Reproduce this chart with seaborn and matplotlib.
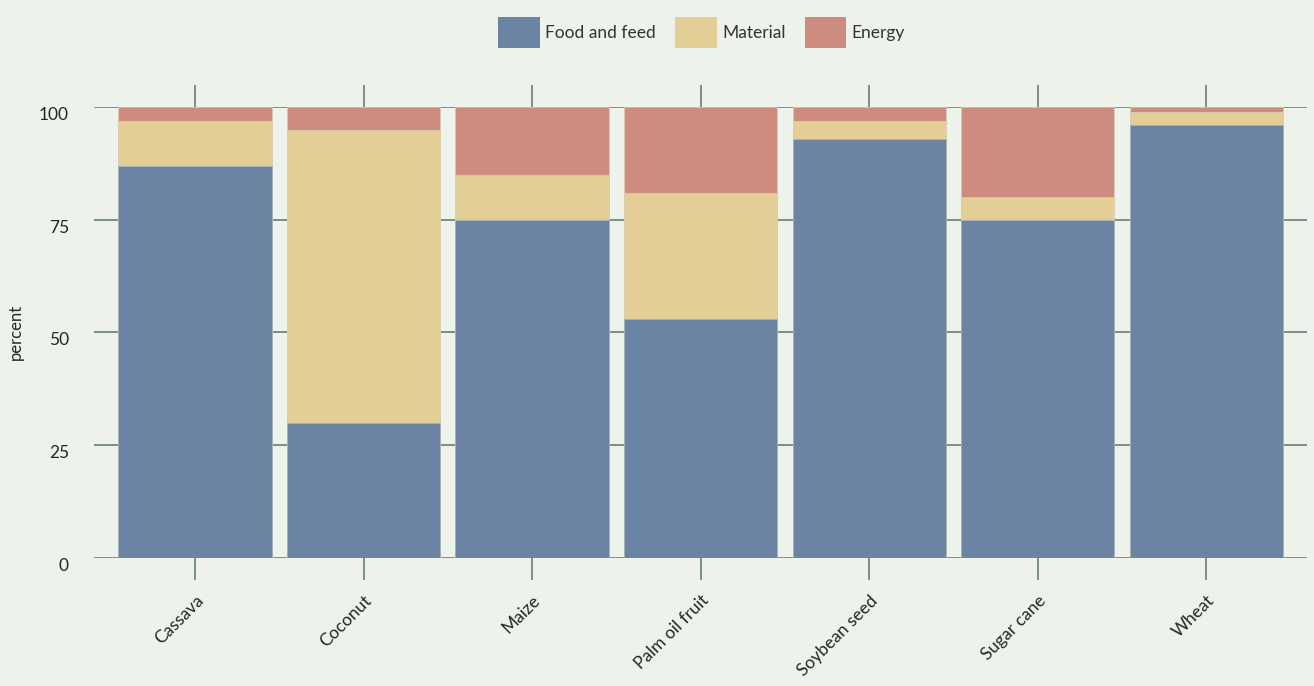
import pandas as pd
import seaborn as sns
import matplotlib.pyplot as plt
from matplotlib.patches import Patch

crops = ['Cassava', 'Coconut', 'Maize', 'Palm oil fruit', 'Soybean seed', 'Sugar cane', 'Wheat']
food = [87, 30, 75, 53, 93, 75, 96]
material = [10, 65, 10, 28, 4, 5, 3]
energy = [3, 5, 15, 19, 3, 20, 1]

bg = '#edf2ea'
grid_col = '#72897b'
colors = {'Food and feed': '#6b84a3', 'Material': '#e3ce95', 'Energy': '#ce8b7f'}

df = pd.DataFrame({'crop': crops, 'food': food, 'material': material, 'energy': energy})
df['fm'] = df['food'] + df['material']
df['total'] = df['fm'] + df['energy']

sns.set_theme(style='white')
plt.rcParams['font.family'] = ['Lato', 'DejaVu Sans']
plt.rcParams['text.color'] = '#333333'

fig = plt.figure(figsize=(13.14, 6.86), dpi=100, facecolor=bg)
ax = fig.add_axes([0.0715, 0.187, 0.9235, 0.657])
ax.set_facecolor(bg)

# stacked look: draw the totals first, then the smaller sums on top
sns.barplot(data=df, x='crop', y='total', color=colors['Energy'], width=0.91,
            saturation=1, ax=ax, edgecolor='#d8cfb8', linewidth=0.5, zorder=2)
sns.barplot(data=df, x='crop', y='fm', color=colors['Material'], width=0.91,
            saturation=1, ax=ax, edgecolor='#d8cfb8', linewidth=0.5, zorder=3)
sns.barplot(data=df, x='crop', y='food', color=colors['Food and feed'], width=0.91,
            saturation=1, ax=ax, edgecolor='#a9b6c2', linewidth=0.5, zorder=4)

ax.set_xlim(-0.6, 6.6)
ax.set_ylim(0, 100)
ax.set_yticks([0, 25, 50, 75, 100])
ax.yaxis.grid(True, color=grid_col, linewidth=1.3, zorder=0)
ax.set_axisbelow(True)
for s in ax.spines.values():
    s.set_visible(False)

ax.tick_params(axis='x', which='both', top=True, bottom=True, direction='out',
               length=16, width=1.3, color=grid_col, labelsize=12.5, pad=9)
ax.tick_params(axis='y', length=0, labelsize=12.5, pad=18)
plt.setp(ax.get_xticklabels(), rotation=45, ha='right', rotation_mode='anchor')
for t in ax.get_yticklabels():
    t.set_verticalalignment('top')

ax.set_xlabel('')
ax.set_ylabel('percent', fontsize=12)
ax.yaxis.set_label_coords(-0.058, 0.5)

handles = [Patch(facecolor=c, edgecolor='none', label=k) for k, c in colors.items()]
fig.legend(handles=handles, loc='center', bbox_to_anchor=(0.534, 0.953), ncol=3,
           frameon=False, fontsize=12.5, handlelength=2.4, handleheight=2.4,
           handletextpad=0.3, columnspacing=1.1)

fig.savefig('out.png', dpi=100, facecolor=bg)
